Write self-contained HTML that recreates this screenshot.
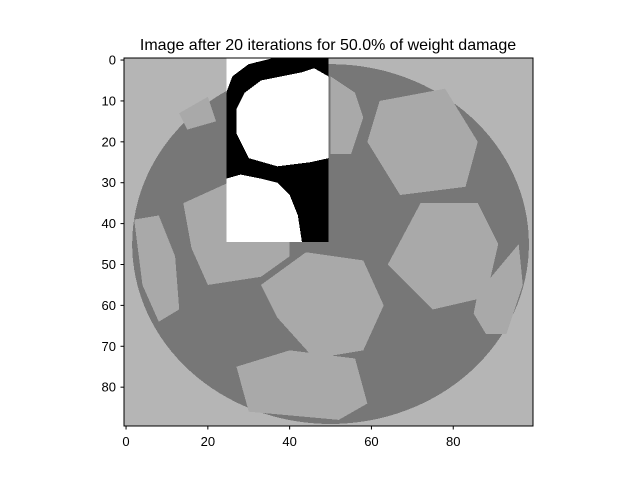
<!DOCTYPE html>
<html><head><meta charset="utf-8"><style>
body{margin:0;background:#fff;font-family:"Liberation Sans",sans-serif}
svg text{font-family:"Liberation Sans","DejaVu Sans",sans-serif;fill:#000}
</style></head><body>
<svg width="640" height="480" viewBox="0 0 640 480">
<text x="328" y="50" font-size="16" text-anchor="middle">Image after 20 iterations for 50.0% of weight damage</text>
<svg x="124" y="58" width="409" height="368" viewBox="-0.5 -0.5 100 90" preserveAspectRatio="none" shape-rendering="crispEdges">
<rect x="-0.5" y="-0.5" width="100" height="90" fill="#b5b5b5"/>
<ellipse cx="50" cy="45" rx="48.5" ry="44" fill="#777777"/>
<g fill="#a9a9a9">
<polygon points="62,10 78,7 86,20 83,31 67,33 59,20"/>
<polygon points="72,35 86,35 91,45 88,58 75,61 64,50"/>
<polygon points="44,47 58,49 63,60 58,71 46,73 37,63 33,55"/>
<polygon points="14,35 25,30 40,39 40,48 33,53 20,55 16,46"/>
<polygon points="2,39 8,38 12,48 13,61 8,64 4,55"/>
<polygon points="27,75 40,71 56,73 59,84 52,88 30,86"/>
<polygon points="13,13 20,9 22,15 15,17"/>
<polygon points="50,4 56,8 58,14 55,23 50,23"/>
<polygon points="86,57 96,45 97,55 93,67 88,67 85,62"/>
</g>
<rect x="24.5" y="-0.5" width="25" height="45" fill="#000"/>
<g fill="#fff">
<polygon points="24.5,-0.5 36,-0.5 30,1 26,4 24.5,8"/>
<polygon points="27,12 29,8 33,5 38,4 43,3 46,2 49.5,4 49.5,24 45,25 37,26 30,24 27,18"/>
<polygon points="24.5,29 28,28 33,29 37,30 40,33 42,38 43,44.5 24.5,44.5"/>
</g>
</svg>
<rect x="124" y="58" width="409" height="368" fill="none" stroke="#000" stroke-width="1"/>
<g id="ticks"></g>
</svg>
<script>
const xTicks=[0,20,40,60,80];
const yTicks=[0,10,20,30,40,50,60,70,80];
const ns="http://www.w3.org/2000/svg";
const g=document.getElementById('ticks');
const px=v=>124+(v+0.5)*4.09, py=v=>58+(v+0.5)*4.089;
xTicks.forEach(t=>{
 const l=document.createElementNS(ns,'line');l.setAttribute('x1',px(t));l.setAttribute('x2',px(t));l.setAttribute('y1',426);l.setAttribute('y2',429.5);l.setAttribute('stroke','#000');
 
 
 g.appendChild(l);
 const s=document.createElementNS(ns,'text');s.setAttribute('x',px(t));s.setAttribute('y',446);s.setAttribute('font-size','13');s.setAttribute('text-anchor','middle');s.textContent=t;
 
 
 g.appendChild(s);
});
yTicks.forEach(t=>{
 const l=document.createElementNS(ns,'line');l.setAttribute('x1',120.5);l.setAttribute('x2',124);l.setAttribute('y1',py(t));l.setAttribute('y2',py(t));l.setAttribute('stroke','#000');
 
 
 g.appendChild(l);
 const s=document.createElementNS(ns,'text');s.setAttribute('x',116);s.setAttribute('y',py(t)+4.5);s.setAttribute('font-size','13');s.setAttribute('text-anchor','end');s.textContent=t;
 
 
 g.appendChild(s);
});
</script>
</body></html>
